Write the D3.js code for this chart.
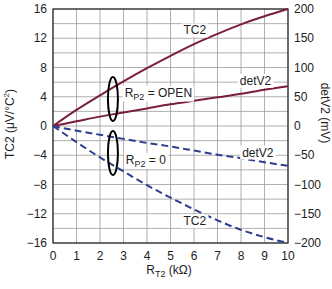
<!DOCTYPE html>
<html>
<head>
<meta charset="utf-8">
<script src="https://cdn.jsdelivr.net/npm/d3@7"></script>
<style>
  body { margin: 0; background: #fff; }
  text { font-family: "Liberation Sans", Arial, sans-serif; fill: #222; }
</style>
</head>
<body>
<div id="chart"></div>
<script>
// x in kOhm
const rt2 = [0, 1, 2, 3, 4, 5, 6, 7, 8, 9, 10];
// RP2 = OPEN (solid)
const tc2Open = [0, 2.2, 4.2, 6.1, 7.9, 9.6, 11.2, 12.6, 13.9, 15, 16];
const detV2Open = [0, 8, 16, 23, 30, 37, 43, 49, 55, 62, 68];
// RP2 = 0 (dashed)
const tc2Zero = [0, -2.2, -4.3, -6.2, -8.1, -9.8, -11.4, -12.9, -14.2, -15.2, -16];
const detV2Zero = [0, -8, -15, -22, -29, -35, -42, -49, -55, -62, -68];

const leftTicks = [-16, -12, -8, -4, 0, 4, 8, 12, 16];
const rightTicks = [-200, -150, -100, -50, 0, 50, 100, 150, 200];
const xTicks = [0, 1, 2, 3, 4, 5, 6, 7, 8, 9, 10];

const W = 332, H = 289;
const margin = {top: 9, right: 44, bottom: 46, left: 53};
const w = W - margin.left - margin.right;
const h = H - margin.top - margin.bottom;

const red = "#7b1e3c", blue = "#2e3e8c";

const svg = d3.select("#chart").append("svg")
    .attr("width", W).attr("height", H);
const g = svg.append("g").attr("transform", `translate(${margin.left},${margin.top})`);

const x = d3.scaleLinear().domain([0, 10]).range([0, w]);
const yL = d3.scaleLinear().domain([-16, 16]).range([h, 0]);
const yR = d3.scaleLinear().domain([-200, 200]).range([h, 0]);

// grid
g.append("g").selectAll("line").data(d3.range(0, 11))
    .enter().append("line")
    .attr("x1", d => x(d)).attr("x2", d => x(d))
    .attr("y1", 0).attr("y2", h)
    .attr("stroke", "#9a9a9a").attr("stroke-width", 0.8);
g.append("g").selectAll("line").data(d3.range(-16, 17, 2))
    .enter().append("line")
    .attr("x1", 0).attr("x2", w)
    .attr("y1", d => yL(d)).attr("y2", d => yL(d))
    .attr("stroke", "#9a9a9a").attr("stroke-width", 0.8);

// frame
g.append("rect").attr("width", w).attr("height", h)
    .attr("fill", "none").attr("stroke", "#222").attr("stroke-width", 1.2);

// tick labels
g.append("g").selectAll("text").data(leftTicks)
    .enter().append("text")
    .attr("x", -6).attr("y", d => yL(d)).attr("dy", "0.35em")
    .attr("text-anchor", "end").attr("font-size", 12)
    .text(d => d < 0 ? "\u2212" + Math.abs(d) : d);
g.append("g").selectAll("text").data(rightTicks)
    .enter().append("text")
    .attr("x", w + 6).attr("y", d => yR(d)).attr("dy", "0.35em")
    .attr("text-anchor", "start").attr("font-size", 12)
    .text(d => d < 0 ? "\u2212" + Math.abs(d) : d);
g.append("g").selectAll("text").data(xTicks)
    .enter().append("text")
    .attr("x", d => x(d)).attr("y", h + 17)
    .attr("text-anchor", "middle").attr("font-size", 12)
    .text(d => d);

// axis titles
const lt = svg.append("text")
    .attr("transform", `translate(14,${margin.top + h / 2 - 2}) rotate(-90)`)
    .attr("text-anchor", "middle").attr("font-size", 12);
lt.append("tspan").text("TC2 (\u03bcV/\u00b0C");
lt.append("tspan").attr("font-size", 8).attr("dy", -5).text("2");
lt.append("tspan").attr("dy", 5).text(")");

svg.append("text")
    .attr("transform", `translate(321,113) rotate(90)`)
    .attr("text-anchor", "middle").attr("font-size", 12)
    .text("detV2 (mV)");

const bt = svg.append("text")
    .attr("x", 169).attr("y", 274)
    .attr("text-anchor", "middle").attr("font-size", 12);
bt.append("tspan").text("R");
bt.append("tspan").attr("font-size", 9).attr("dy", 3).text("T2");
bt.append("tspan").attr("dy", -3).text(" (k\u03a9)");

// curves
const lineL = d3.line().x((d, i) => x(rt2[i])).y(d => yL(d)).curve(d3.curveMonotoneX);
const lineR = d3.line().x((d, i) => x(rt2[i])).y(d => yR(d)).curve(d3.curveMonotoneX);

g.append("path").attr("d", lineL(tc2Open)).attr("fill", "none")
    .attr("stroke", red).attr("stroke-width", 2);
g.append("path").attr("d", lineR(detV2Open)).attr("fill", "none")
    .attr("stroke", red).attr("stroke-width", 2);
g.append("path").attr("d", lineL(tc2Zero)).attr("fill", "none")
    .attr("stroke", blue).attr("stroke-width", 2).attr("stroke-dasharray", "7,4");
g.append("path").attr("d", lineR(detV2Zero)).attr("fill", "none")
    .attr("stroke", blue).attr("stroke-width", 2).attr("stroke-dasharray", "7,4");

// ellipses
g.append("ellipse").attr("cx", x(2.55)).attr("cy", yL(3.7))
    .attr("rx", 5).attr("ry", 22)
    .attr("fill", "none").attr("stroke", "#000").attr("stroke-width", 2);
g.append("ellipse").attr("cx", x(2.55)).attr("cy", yL(-3.7))
    .attr("rx", 5).attr("ry", 22)
    .attr("fill", "none").attr("stroke", "#000").attr("stroke-width", 2);

// curve labels with white backing
function label(xv, yv, parts) {
    const t = g.append("text").attr("x", x(xv)).attr("y", yL(yv))
        .attr("font-size", 12).attr("dy", "0.35em");
    parts.forEach(p => {
        const s = t.append("tspan").text(p.t);
        if (p.sub) s.attr("font-size", 9).attr("dy", 3);
        if (p.back) s.attr("dy", -3);
    });
    const bb = t.node().getBBox();
    g.insert("rect", function () { return t.node(); })
        .attr("x", bb.x - 2).attr("y", bb.y)
        .attr("width", bb.width + 4).attr("height", bb.height)
        .attr("fill", "#fff");
}
label(5.55, 13.1, [{t: "TC2"}]);
label(3.05, 4.6, [{t: "R"}, {t: "P2", sub: true}, {t: " = OPEN", back: true}]);
label(7.95, 6.2, [{t: "detV2"}]);
label(3.1, -4.6, [{t: "R"}, {t: "P2", sub: true}, {t: " = 0", back: true}]);
label(8.05, -3.6, [{t: "detV2"}]);
label(5.55, -13, [{t: "TC2"}]);
</script>
</body>
</html>
